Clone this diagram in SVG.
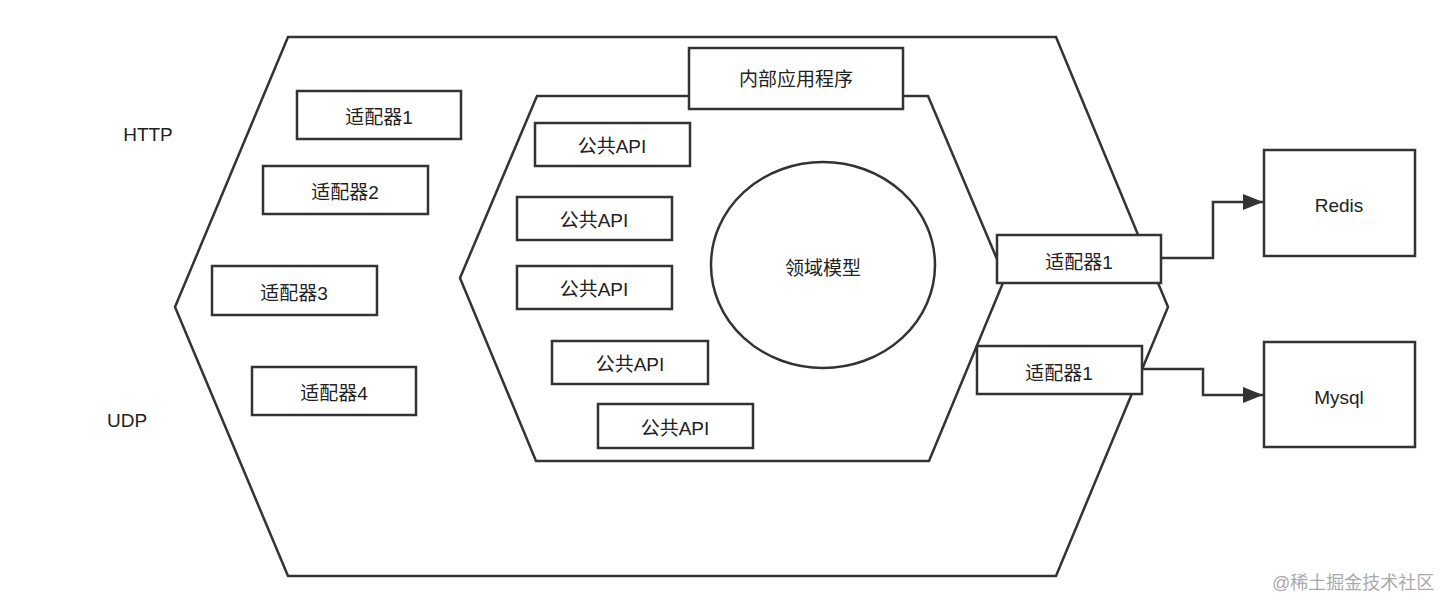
<svg xmlns="http://www.w3.org/2000/svg" width="1452" height="614" viewBox="0 0 1452 614">
<style>
.s{fill:#fff;stroke:#333;stroke-width:2.5}
.h{fill:none;stroke:#333;stroke-width:2.5;stroke-linejoin:miter}
.t{font-family:"Liberation Sans","Noto Sans CJK SC",sans-serif;font-size:19px;fill:#222;text-anchor:middle;dominant-baseline:central}
.c{fill:none;stroke:#333;stroke-width:2.5}
.w{font-family:"Liberation Sans","Noto Sans CJK SC",sans-serif;font-size:18px;fill:#aaa;text-anchor:start;dominant-baseline:central}
</style>
<defs>
<marker id="ah2" markerWidth="20" markerHeight="16" refX="20" refY="8" orient="auto" markerUnits="userSpaceOnUse" viewBox="0 0 20 16">
<path d="M0,0 L20,8 L0,16 Z" fill="#333"/>
</marker>
</defs>
<rect width="1452" height="614" fill="#fff"/>
<g id="outer-hex"><polygon class="h" points="288,37 1056,37 1168,307 1056,576 288,576 175,307"/></g>
<g id="inner-hex"><polygon class="h" points="537,96 928,96 1005,278 929,461 536,461 460,278"/></g>
<g id="http"><text class="t" x="148" y="134">HTTP</text></g>
<g id="udp"><text class="t" x="127" y="420">UDP</text></g>
<g id="in-adapter1"><rect class="s" x="297" y="91" width="164" height="48"/><text class="t" x="379" y="117">适配器1</text></g>
<g id="in-adapter2"><rect class="s" x="263" y="166" width="165" height="48"/><text class="t" x="345" y="192">适配器2</text></g>
<g id="in-adapter3"><rect class="s" x="212" y="266" width="165" height="49"/><text class="t" x="294" y="293">适配器3</text></g>
<g id="in-adapter4"><rect class="s" x="252" y="367" width="164" height="48"/><text class="t" x="334" y="393">适配器4</text></g>
<g id="app"><rect class="s" x="689" y="48" width="214" height="61"/><text class="t" x="796" y="79">内部应用程序</text></g>
<g id="api1"><rect class="s" x="535" y="123" width="155" height="43"/><text class="t" x="612" y="146">公共API</text></g>
<g id="api2"><rect class="s" x="517" y="197" width="155" height="43"/><text class="t" x="594" y="220">公共API</text></g>
<g id="api3"><rect class="s" x="517" y="266" width="155" height="43"/><text class="t" x="594" y="289">公共API</text></g>
<g id="api4"><rect class="s" x="552" y="341" width="156" height="43"/><text class="t" x="630" y="364">公共API</text></g>
<g id="api5"><rect class="s" x="598" y="404" width="155" height="44"/><text class="t" x="675" y="428">公共API</text></g>
<g id="domain"><ellipse class="s" cx="823" cy="265" rx="112" ry="103"/><text class="t" x="823" y="268">领域模型</text></g>
<g id="out-adapter1"><rect class="s" x="997" y="235" width="164" height="48"/><text class="t" x="1079" y="262">适配器1</text></g>
<g id="out-adapter2"><rect class="s" x="977" y="346" width="165" height="48"/><text class="t" x="1059" y="373">适配器1</text></g>
<g id="redis"><rect class="s" x="1264" y="150" width="151" height="106"/><text class="t" x="1339" y="205">Redis</text></g>
<g id="mysql"><rect class="s" x="1264" y="342" width="151" height="105"/><text class="t" x="1339" y="397">Mysql</text></g>
<g id="connectors">
<path class="c" d="M1161,258 H1213 V202 H1263" marker-end="url(#ah2)"/>
<path class="c" d="M1142,369 H1203 V395 H1263" marker-end="url(#ah2)"/>
</g>
<text class="w" x="1272" y="583">@稀土掘金技术社区</text>
</svg>
